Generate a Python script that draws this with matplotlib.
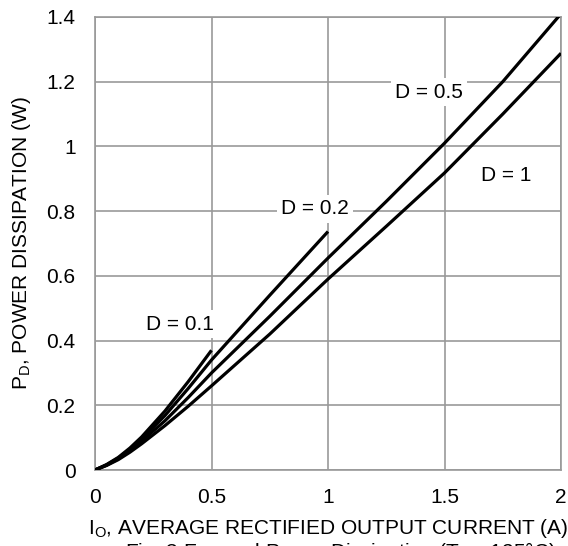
import matplotlib
matplotlib.use("Agg")
import matplotlib.pyplot as plt
import numpy as np

plt.rcParams['font.family'] = ['Liberation Sans', 'DejaVu Sans']

x_d1 = [0, 0.05, 0.1, 0.15, 0.2, 0.3, 0.4, 0.5, 0.75, 1.0, 1.25, 1.5, 1.75, 2.0]
y_d1 = [0, 0.014, 0.032, 0.055, 0.081, 0.137, 0.197, 0.26, 0.42, 0.59, 0.753, 0.918, 1.10, 1.288]
x_d05 = [0, 0.05, 0.1, 0.15, 0.2, 0.3, 0.4, 0.5, 0.75, 1.0, 1.25, 1.5, 1.75, 2.0]
y_d05 = [0, 0.015, 0.035, 0.06, 0.089, 0.152, 0.224, 0.30, 0.475, 0.655, 0.83, 1.01, 1.20, 1.41]
x_d02 = [0, 0.05, 0.1, 0.15, 0.2, 0.3, 0.4, 0.5, 0.75, 1.0]
y_d02 = [0, 0.016, 0.037, 0.064, 0.096, 0.168, 0.252, 0.34, 0.54, 0.737]
x_d01 = [0, 0.05, 0.1, 0.15, 0.2, 0.3, 0.4, 0.5]
y_d01 = [0, 0.017, 0.039, 0.068, 0.102, 0.182, 0.273, 0.37]

labels = ["D = 0.1", "D = 0.2", "D = 0.5", "D = 1"]
label_x = [0.365, 0.944, 1.433, 1.764]
label_y = [0.451, 0.807, 1.168, 0.909]

xticks = [0, 0.5, 1, 1.5, 2]
xticklabels = ["0", "0.5", "1", "1.5", "2"]
yticks = [0, 0.2, 0.4, 0.6, 0.8, 1.0, 1.2, 1.4]
yticklabels = ["0", "0.2", "0.4", "0.6", "0.8", "1", "1.2", "1.4"]

FS = 15

fig = plt.figure(figsize=(5.68, 5.46), dpi=100)
ax = fig.add_axes([95/568, 76/546, 466/568, 453/546])

for xs, ys in [(x_d1, y_d1), (x_d05, y_d05), (x_d02, y_d02), (x_d01, y_d01)]:
    ax.plot(xs, ys, color='black', lw=2.3, solid_capstyle='butt',
            solid_joinstyle='round', zorder=3)

for t, lx, ly in zip(labels, label_x, label_y):
    ax.text(lx, ly, t, ha='center', va='center', fontsize=FS, zorder=4,
            bbox=dict(facecolor='white', edgecolor='none', pad=3))

ax.set_xlim(0, 2)
ax.set_ylim(0, 1.4)
ax.set_xticks(xticks)
ax.set_xticklabels(xticklabels)
ax.set_yticks(yticks)
ax.set_yticklabels(yticklabels)
ax.tick_params(axis='x', length=0, labelsize=FS, pad=13)
ax.tick_params(axis='y', length=0, labelsize=FS, pad=14)
ax.grid(True, color='#999999', lw=1.2, zorder=1)
ax.set_axisbelow(True)
for s in ax.spines.values():
    s.set_color('#999999')
    s.set_linewidth(1.2)

ax.set_xlabel("I$_\\mathregular{O}$, AVERAGE RECTIFIED OUTPUT CURRENT (A)", fontsize=FS, labelpad=7)
ax.set_ylabel("P$_\\mathregular{D}$, POWER DISSIPATION (W)", fontsize=FS, labelpad=10)

fig.text(0.60, 6/546, "Fig. 3 Forward Power Dissipation (T$_\\mathregular{J}$ = 125°C)",
         ha='center', va='top', fontsize=FS)

fig.savefig("out.png", dpi=100)
